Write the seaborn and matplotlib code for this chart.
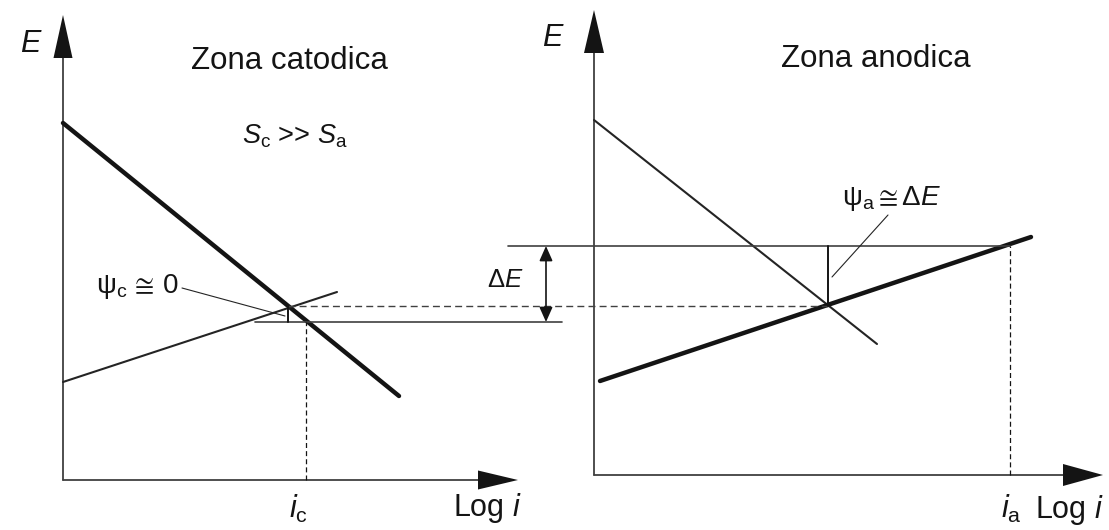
import matplotlib
matplotlib.use("Agg")
import matplotlib.pyplot as plt
import numpy as np
import pandas as pd
import seaborn as sns

# ---------------------------------------------------------------
# Evans diagram: cathodic zone (left) and anodic zone (right),
# Sc >> Sa. Both panels share one potential / log-current frame.
# ---------------------------------------------------------------

# Left panel (cathodic zone): axes and polarisation lines
cat_axis_x = [63, 518]            # Log i axis extent
cat_axis_y = [50, 515]            # E axis extent
cat_axis_origin = [63, 50]
cat_cathodic_logi = [63, 399]     # thick cathodic line
cat_cathodic_E = [407, 134]
cat_anodic_logi = [63, 337]       # thin anodic line
cat_anodic_E = [148, 238]

# Right panel (anodic zone): axes and polarisation lines
an_axis_x = [594, 1103]
an_axis_y = [55, 520]
an_axis_origin = [594, 55]
an_cathodic_logi = [594, 877]     # thin cathodic line
an_cathodic_E = [410, 186]
an_anodic_logi = [600, 1031]      # thick anodic line
an_anodic_E = [149, 293]

# Potential levels and currents shared by both panels
E_mixed = 224                     # dashed level through both intersections
E_low = 208                       # potential of the cathodic zone
E_high = 284                      # potential of the anodic zone
logi_cross_c = 288                # intersection in the cathodic zone
logi_cross_a = 828                # intersection in the anodic zone
logi_ic = 306                     # i_c
logi_ia = 1010                    # i_a
logi_low_start, logi_low_end = 255, 562
logi_high_start = 508
logi_dE = 546                     # position of the ΔE arrow

# Leader lines of the two labels
psi_c_leader_logi = [182, 285]
psi_c_leader_E = [242, 214]
psi_a_leader_logi = [888, 832]
psi_a_leader_E = [315, 253]

# Text labels
label_E = r"$E$"
label_logi = r"Log $i$"
label_zone_c = "Zona catodica"
label_zone_a = "Zona anodica"
label_ratio = r"$S_\mathrm{c}$ >> $S_\mathrm{a}$"
label_psi_c = r"$\mathrm{\psi_c}\,\cong\,0$"
label_psi_a = r"$\mathrm{\psi_a} \cong \Delta E$"
label_dE = r"$\Delta E$"
label_ic = r"$i_\mathrm{c}$"
label_ia = r"$i_\mathrm{a}$"

# ---------------------------------------------------------------
sns.set_theme(style="white")
plt.rcParams["font.family"] = ["Liberation Sans", "DejaVu Sans"]
plt.rcParams["mathtext.fontset"] = "custom"
plt.rcParams["mathtext.rm"] = "Liberation Sans"
plt.rcParams["mathtext.it"] = "Liberation Sans:italic"
plt.rcParams["mathtext.fallback"] = "stixsans"

INK = "#141414"
THIN = "#242424"
GREY = "#404040"

fig = plt.figure(figsize=(11.09, 5.30), dpi=100, facecolor="white")
ax = fig.add_axes([0, 0, 1, 1])
ax.set_xlim(0, 1109)
ax.set_ylim(0, 530)
ax.axis("off")


def seg(x, y, color=THIN, lw=1.3, ls="-"):
    df = pd.DataFrame({"logi": x, "E": y})
    sns.lineplot(data=df, x="logi", y="E", ax=ax, color=color, linewidth=lw,
                 linestyle=ls, sort=False, estimator=None, legend=False)


def head(tip_x, tip_y, direction, length, width):
    if direction == "up":
        xs = [tip_x - width / 2, tip_x, tip_x + width / 2]
        ys = [tip_y - length, tip_y, tip_y - length]
    else:
        xs = [tip_x - length, tip_x, tip_x - length]
        ys = [tip_y + width / 2, tip_y, tip_y - width / 2]
    ax.fill(xs, ys, color=INK, lw=0, zorder=5)


def draw_axes(origin, ax_x, ax_y, wy, wx):
    seg([origin[0], origin[0]], [origin[1], ax_y[1] - 30], color=GREY, lw=1.3)
    seg([origin[0], ax_x[1] - 30], [origin[1], origin[1]], color=GREY, lw=1.3)
    head(origin[0], ax_y[1], "up", 43, wy)
    head(ax_x[1], origin[1], "right", 40, wx)


draw_axes(cat_axis_origin, cat_axis_x, cat_axis_y, 19, 19)
draw_axes(an_axis_origin, an_axis_x, an_axis_y, 20, 22)

# polarisation lines
seg(cat_cathodic_logi, cat_cathodic_E, color=INK, lw=3.2)
seg(cat_anodic_logi, cat_anodic_E, color=THIN, lw=1.5)
seg(an_cathodic_logi, an_cathodic_E, color=THIN, lw=1.5)
seg(an_anodic_logi, an_anodic_E, color=INK, lw=3.2)

# potential levels
seg([logi_low_start, logi_low_end], [E_low, E_low], color=GREY, lw=1.2)
seg([logi_high_start, logi_ia], [E_high, E_high], color=GREY, lw=1.2)
seg([logi_cross_c, logi_cross_a], [E_mixed, E_mixed], color=GREY, lw=1.0,
    ls=(0, (5, 3)))
seg([logi_cross_c, logi_cross_c], [E_low, E_mixed], color=INK, lw=1.4)
seg([logi_cross_a, logi_cross_a], [E_mixed, E_high], color=INK, lw=1.4)

# currents
seg([logi_ic, logi_ic], [cat_axis_origin[1], E_low], color=INK, lw=0.9,
    ls=(0, (4, 2.5)))
seg([logi_ia, logi_ia], [an_axis_origin[1], E_high], color=INK, lw=0.9,
    ls=(0, (4, 2.5)))

# ΔE double arrow
ax.annotate("", xy=(logi_dE, E_low), xytext=(logi_dE, E_high),
            arrowprops=dict(arrowstyle="<|-|>,head_length=0.45,head_width=0.2",
                            mutation_scale=20, color=INK, lw=1.2,
                            shrinkA=0, shrinkB=0))

# leader lines
seg(psi_c_leader_logi, psi_c_leader_E, color=THIN, lw=0.8)
seg(psi_a_leader_logi, psi_a_leader_E, color=THIN, lw=0.8)

# labels
ax.text(20, 478, label_E, fontsize=22, color=INK, ha="left", va="baseline")
ax.text(542, 484, label_E, fontsize=22, color=INK, ha="left", va="baseline")
ax.text(289, 461, label_zone_c, fontsize=22.5, color=INK, ha="center", va="baseline")
ax.text(876, 463, label_zone_a, fontsize=22.5, color=INK, ha="center", va="baseline")
ax.text(295, 387, label_ratio, fontsize=19.5, color=INK, ha="center", va="baseline")
ax.text(96, 237, label_psi_c, fontsize=20, color=INK, ha="left", va="baseline")
ax.text(842, 325, label_psi_a, fontsize=20, color=INK, ha="left", va="baseline")
ax.text(487, 243, label_dE, fontsize=18.5, color=INK, ha="left", va="baseline")
ax.text(289, 12, label_ic, fontsize=22, color=INK, ha="left", va="baseline")
ax.text(453, 14, label_logi, fontsize=22, color=INK, ha="left", va="baseline")
ax.text(1001, 12, label_ia, fontsize=22, color=INK, ha="left", va="baseline")
ax.text(1035, 12, label_logi, fontsize=22, color=INK, ha="left", va="baseline")

fig.savefig("out.png", dpi=100, facecolor="white")
